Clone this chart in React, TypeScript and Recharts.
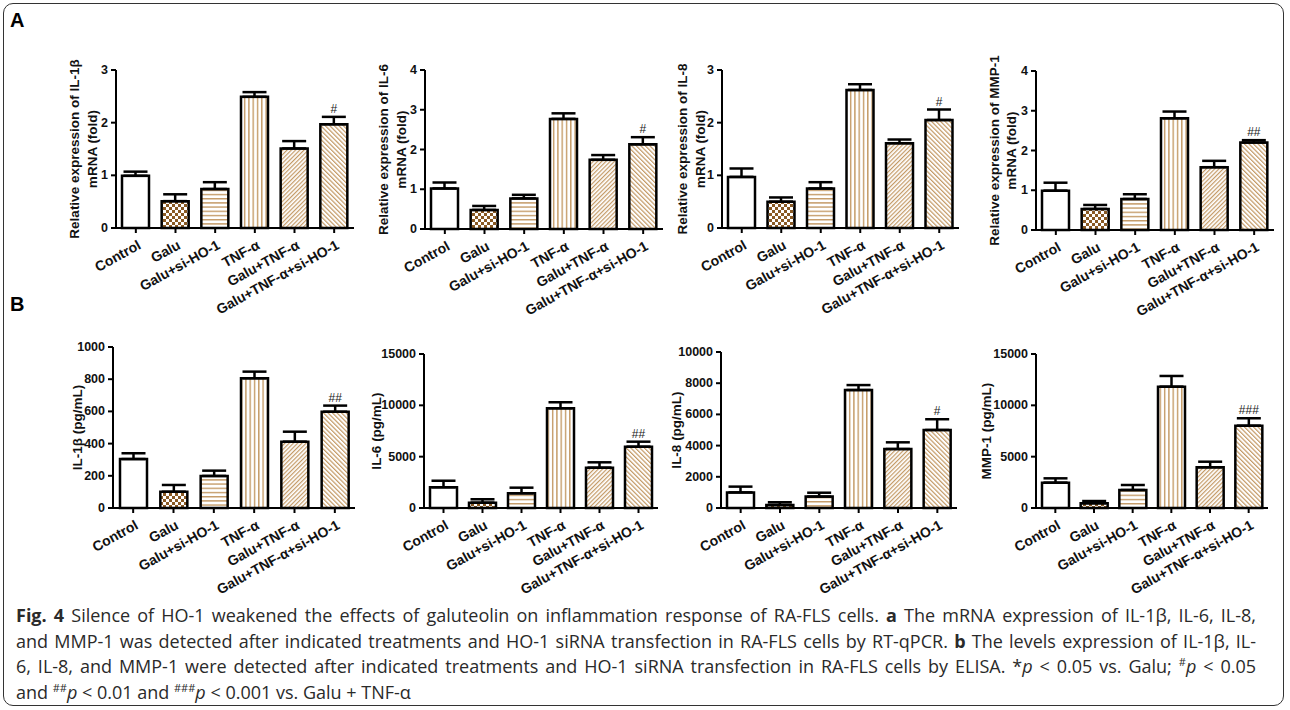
import React from 'react';
import { ComposedChart, Bar, XAxis, YAxis, ErrorBar, LabelList, Label, Cell } from 'recharts';

const groups = ['Control', 'Galu', 'Galu+si-HO-1', 'TNF-α', 'Galu+TNF-α', 'Galu+TNF-α+si-HO-1'];

const il1bMrna = [0.99, 0.51, 0.74, 2.49, 1.51, 1.97];
const il1bMrnaErr = [0.08, 0.13, 0.13, 0.09, 0.14, 0.14];
const il6Mrna = [1.02, 0.48, 0.77, 2.77, 1.74, 2.13];
const il6MrnaErr = [0.15, 0.1, 0.09, 0.14, 0.12, 0.18];
const il8Mrna = [0.97, 0.5, 0.75, 2.62, 1.61, 2.05];
const il8MrnaErr = [0.16, 0.08, 0.12, 0.11, 0.07, 0.2];
const mmp1Mrna = [0.99, 0.53, 0.78, 2.81, 1.58, 2.2];
const mmp1MrnaErr = [0.2, 0.1, 0.12, 0.17, 0.16, 0.06];

const il1bProt = [304, 101, 199, 806, 412, 598];
const il1bProtErr = [36, 42, 33, 41, 62, 38];
const il6Prot = [2016, 520, 1430, 9710, 3930, 5970];
const il6ProtErr = [640, 330, 550, 590, 520, 490];
const il8Prot = [1000, 200, 730, 7560, 3780, 5000];
const il8ProtErr = [370, 170, 250, 320, 430, 690];
const mmp1Prot = [2470, 460, 1750, 11820, 3960, 8020];
const mmp1ProtErr = [420, 220, 490, 1040, 550, 720];

const marksA1 = ['', '', '', '', '', '#'];
const marksA2 = ['', '', '', '', '', '#'];
const marksA3 = ['', '', '', '', '', '#'];
const marksA4 = ['', '', '', '', '', '##'];
const marksB1 = ['', '', '', '', '', '##'];
const marksB2 = ['', '', '', '', '', '##'];
const marksB3 = ['', '', '', '', '', '#'];
const marksB4 = ['', '', '', '', '', '###'];

const ticks3 = [0, 1, 2, 3];
const ticks4 = [0, 1, 2, 3, 4];
const ticksB1 = [0, 200, 400, 600, 800, 1000];
const ticksB2 = [0, 5000, 10000, 15000];
const ticksB3 = [0, 2000, 4000, 6000, 8000, 10000];
const ticksB4 = [0, 5000, 10000, 15000];

const fills = ['#ffffff', 'url(#pChecker)', 'url(#pHoriz)', 'url(#pVert)', 'url(#pDiagA)', 'url(#pDiagB)'];
const TAN = '#c49a66';
const BROWN = '#8a5a24';
const FONT = '"Liberation Sans", Arial, Helvetica, sans-serif';

function buildRows(values: number[], errs: number[], marks: string[]) {
  return groups.map((g, i) => ({ name: g, value: values[i], err: [0, errs[i]], mark: marks[i] }));
}

const CatTick = (props: any) => {
  const { x, y, payload } = props;
  const tx = x + 6;
  const ty = y + 13;
  return (
    <text x={tx} y={ty} transform={`rotate(-29, ${tx}, ${ty})`} textAnchor="end" fontSize={14} fontWeight={700} fontFamily={FONT} fill="#111">
      {payload.value}
    </text>
  );
};

const NumTick = (props: any) => {
  const { x, y, payload } = props;
  return (
    <text x={x} y={y} textAnchor="end" dominantBaseline="central" fontSize={12.5} fontWeight={700} fontFamily={FONT} fill="#111">
      {payload.value}
    </text>
  );
};

type PanelProps = {
  left: number;
  top: number;
  plotW: number;
  plotH: number;
  values: number[];
  errs: number[];
  marks: string[];
  ticks: number[];
  max: number;
  lines: string[];
  offsets: number[];
};

const Panel = ({ left, top, plotW, plotH, values, errs, marks, ticks, max, lines, offsets }: PanelProps) => {
  const data = buildRows(values, errs, marks);
  const mTop = 40;
  const mRight = 30;
  const yW = 100;
  const xH = 110;
  const width = yW + plotW + mRight;
  const height = mTop + plotH + xH;

  const yLabel = (p: any) => {
    const vb = p.viewBox || {};
    const axisX = vb.x + vb.width;
    const cy = vb.y + vb.height / 2;
    return (
      <g>
        {lines.map((t, i) => {
          const lx = axisX + offsets[i];
          return (
            <text key={i} x={lx} y={cy} transform={`rotate(-90, ${lx}, ${cy})`} textAnchor="middle" dominantBaseline="central" fontSize={13.5} fontWeight={700} fontFamily={FONT} fill="#111">
              {t}
            </text>
          );
        })}
      </g>
    );
  };

  const markLabel = (p: any) => {
    const { x, y, width: w, height: h, value, index } = p;
    if (!value) return null;
    const perUnit = h / values[index];
    const errTop = y - errs[index] * perUnit;
    return (
      <text x={x + w / 2} y={errTop - 4} textAnchor="middle" fontSize={12} fontFamily={FONT} fill="#222">
        {value}
      </text>
    );
  };

  return (
    <div style={{ position: 'absolute', left: left - yW, top: top - mTop }}>
      <ComposedChart width={width} height={height} data={data} margin={{ top: mTop, right: mRight, left: 0, bottom: 0 }} style={{ overflow: 'visible' }}>
        <XAxis
          dataKey="name"
          height={xH}
          interval={0}
          tick={<CatTick />}
          tickSize={5}
          axisLine={{ stroke: '#000', strokeWidth: 2 }}
          tickLine={{ stroke: '#000', strokeWidth: 2 }}
        />
        <YAxis
          width={yW}
          domain={[0, max]}
          ticks={ticks}
          interval={0}
          tick={<NumTick />}
          tickSize={5}
          tickMargin={3}
          axisLine={{ stroke: '#000', strokeWidth: 2 }}
          tickLine={{ stroke: '#000', strokeWidth: 2 }}
        >
          <Label content={yLabel} />
        </YAxis>
        <Bar dataKey="value" barSize={27} stroke="#000" strokeWidth={2.5} isAnimationActive={false}>
          {data.map((d, i) => (
            <Cell key={d.name} fill={fills[i]} />
          ))}
          <ErrorBar dataKey="err" width={12} stroke="#000" strokeWidth={2.5} direction="y" />
          <LabelList dataKey="mark" content={markLabel} />
        </Bar>
      </ComposedChart>
    </div>
  );
};

const Patterns = () => (
  <svg width={0} height={0} style={{ position: 'absolute', left: 0, top: 0 }}>
    <defs>
      <pattern id="pChecker" patternUnits="userSpaceOnUse" width={6} height={6}>
        <rect x={0} y={0} width={6} height={6} fill="#fff" />
        <rect x={0} y={0} width={3} height={3} fill={BROWN} />
        <rect x={3} y={3} width={3} height={3} fill={BROWN} />
      </pattern>
      <pattern id="pHoriz" patternUnits="userSpaceOnUse" width={4} height={4.2}>
        <rect x={0} y={0} width={4} height={4.2} fill="#fff" />
        <rect x={0} y={0} width={4} height={1.4} fill={TAN} />
      </pattern>
      <pattern id="pVert" patternUnits="userSpaceOnUse" width={4.3} height={4}>
        <rect x={0} y={0} width={4.3} height={4} fill="#fff" />
        <rect x={0} y={0} width={1.4} height={4} fill={TAN} />
      </pattern>
      <pattern id="pDiagA" patternUnits="userSpaceOnUse" width={3} height={3} patternTransform="rotate(45)">
        <rect x={0} y={0} width={3} height={3} fill="#fff" />
        <rect x={0} y={0} width={1.2} height={3} fill={TAN} />
      </pattern>
      <pattern id="pDiagB" patternUnits="userSpaceOnUse" width={3.2} height={3.2} patternTransform="rotate(-45)">
        <rect x={0} y={0} width={3.2} height={3.2} fill="#fff" />
        <rect x={0} y={0} width={1.2} height={3.2} fill={TAN} />
      </pattern>
    </defs>
  </svg>
);

const aLab = (name: string) => ['Relative expression of ' + name, 'mRNA (fold)'];

const supStyle: React.CSSProperties = { fontSize: 11, position: 'relative', top: -7, lineHeight: 0 };
const justLine: React.CSSProperties = { textAlign: 'justify', textAlignLast: 'justify', height: 25.5, lineHeight: '25.5px' };
const plainLine: React.CSSProperties = { height: 25.5, lineHeight: '25.5px' };

export default function App() {
  return (
    <div style={{ position: 'absolute', left: 0, top: 0, width: 1290, height: 710, background: '#fff', overflow: 'hidden', fontFamily: FONT }}>
      <Patterns />
      <div style={{ position: 'absolute', left: 3, top: 3, width: 1281, height: 703, border: '1.5px solid #333', borderRadius: 10, boxSizing: 'border-box' }} />
      <div style={{ position: 'absolute', left: 10, top: 9, fontSize: 20, fontWeight: 700, color: '#000' }}>A</div>
      <div style={{ position: 'absolute', left: 10, top: 293, fontSize: 20, fontWeight: 700, color: '#000' }}>B</div>

      <Panel left={116} top={70} plotW={238} plotH={158} values={il1bMrna} errs={il1bMrnaErr} marks={marksA1} ticks={ticks3} max={3} lines={aLab('IL-1β')} offsets={[-42, -24]} />
      <Panel left={425} top={70} plotW={238} plotH={159} values={il6Mrna} errs={il6MrnaErr} marks={marksA2} ticks={ticks4} max={4} lines={aLab('IL-6')} offsets={[-42, -24]} />
      <Panel left={722} top={70} plotW={237} plotH={158} values={il8Mrna} errs={il8MrnaErr} marks={marksA3} ticks={ticks3} max={3} lines={aLab('IL-8')} offsets={[-40, -22]} />
      <Panel left={1036} top={71} plotW={238} plotH={159} values={mmp1Mrna} errs={mmp1MrnaErr} marks={marksA4} ticks={ticks4} max={4} lines={aLab('MMP-1')} offsets={[-42, -25]} />

      <Panel left={113} top={347} plotW={242} plotH={161} values={il1bProt} errs={il1bProtErr} marks={marksB1} ticks={ticksB1} max={1000} lines={['IL-1β (pg/mL)']} offsets={[-36]} />
      <Panel left={424} top={354} plotW={234} plotH={154} values={il6Prot} errs={il6ProtErr} marks={marksB2} ticks={ticksB2} max={15000} lines={['IL-6 (pg/mL)']} offsets={[-48]} />
      <Panel left={721} top={352} plotW={236} plotH={156} values={il8Prot} errs={il8ProtErr} marks={marksB3} ticks={ticksB3} max={10000} lines={['IL-8 (pg/mL)']} offsets={[-45]} />
      <Panel left={1036} top={354} plotW={232} plotH={154} values={mmp1Prot} errs={mmp1ProtErr} marks={marksB4} ticks={ticksB4} max={15000} lines={['MMP-1 (pg/mL)']} offsets={[-50]} />

      <div style={{ position: 'absolute', left: 16, top: 603, width: 1240, fontFamily: '"Open Sans", "Noto Sans", sans-serif', fontSize: 18, color: '#2a2a2a', whiteSpace: 'nowrap' }}>
        <div style={justLine}>
          <b>Fig. 4</b> Silence of HO-1 weakened the effects of galuteolin on inflammation response of RA-FLS cells. <b>a</b> The mRNA expression of IL-1β, IL-6, IL-8,
        </div>
        <div style={justLine}>and MMP-1 was detected after indicated treatments and HO-1 siRNA transfection in RA-FLS cells by RT-qPCR. <b>b</b> The levels expression of IL-1β, IL-</div>
        <div style={justLine}>
          6, IL-8, and MMP-1 were detected after indicated treatments and HO-1 siRNA transfection in RA-FLS cells by ELISA. *<i>p</i> &lt; 0.05 vs. Galu; <span style={supStyle}>#</span><i>p</i> &lt; 0.05
        </div>
        <div style={plainLine}>
          and <span style={supStyle}>##</span><i>p</i> &lt; 0.01 and <span style={supStyle}>###</span><i>p</i> &lt; 0.001 vs. Galu + TNF-α
        </div>
      </div>
    </div>
  );
}
